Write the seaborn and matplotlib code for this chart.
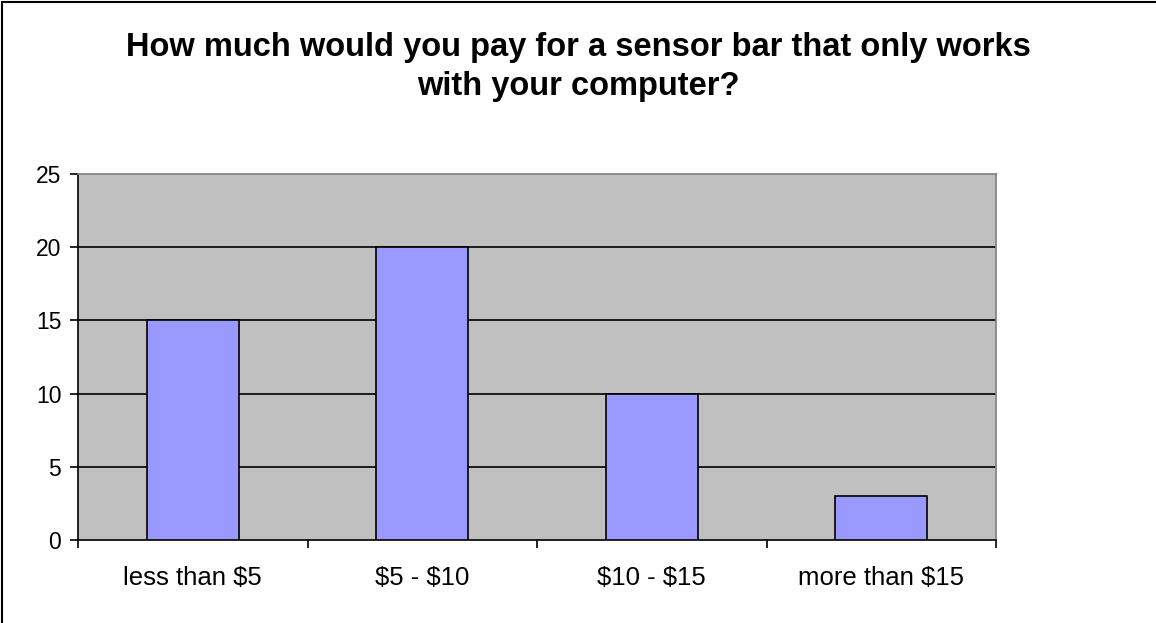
import matplotlib
matplotlib.use("Agg")
import matplotlib.pyplot as plt
import seaborn as sns
import pandas as pd
from matplotlib.lines import Line2D

categories = ["less than $5", "$5 - $10", "$10 - $15", "more than $15"]
values = [15, 20, 10, 3]
yticks = [0, 5, 10, 15, 20, 25]
title = "How much would you pay for a sensor bar that only works\nwith your computer?"

sns.set_theme(style="white")
plt.rcParams['font.family'] = ['Liberation Sans', 'DejaVu Sans']
plt.rcParams['text.parse_math'] = False
plt.rcParams['text.color'] = 'black'
plt.rcParams['xtick.color'] = 'black'
plt.rcParams['ytick.color'] = 'black'

df = pd.DataFrame({"cat": categories, "val": values})

fig = plt.figure(figsize=(11.56, 6.23), dpi=100)
ax = fig.add_axes([78/1156, 1-540/623, (996-78)/1156, (540-174)/623])
ax.set_facecolor("#C0C0C0")

sns.barplot(data=df, x="cat", y="val", ax=ax, color="#9999FF", saturation=1,
            width=0.40, edgecolor="black", linewidth=1.2, zorder=3)

ax.set_ylim(0, 25)
ax.set_xlim(-0.5, len(categories) - 0.5)
ax.set_yticks(yticks)
ax.set_yticklabels([str(t) for t in yticks], fontsize=16.5)
for y in yticks[1:-1]:
    ax.axhline(y, color="black", linewidth=1.2, zorder=1)

ax.set_xticks([i for i in range(len(categories))])
ax.set_xticklabels(categories, fontsize=18.5)
ax.tick_params(axis='x', length=0, pad=19)
ax.set_xticks([i - 0.5 for i in range(len(categories) + 1)], minor=True)
ax.tick_params(axis='x', which='minor', length=6, width=1.2, color='black', direction='out', bottom=True)
ax.tick_params(axis='y', length=6, width=1.2, color='black', direction='out', left=True, pad=6)
ax.set_xlabel("")
ax.set_ylabel("")

for s in ["left", "bottom"]:
    ax.spines[s].set_color("black")
    ax.spines[s].set_linewidth(1.2)
for s in ["top", "right"]:
    ax.spines[s].set_visible(True)
    ax.spines[s].set_color("#808080")
    ax.spines[s].set_linewidth(1.2)

fig.text(0.5, 1-67/623, title, ha="center", va="center", fontsize=23.5,
         fontweight="bold", linespacing=1.35, color="black")

fig.add_artist(Line2D([2/1156, 1], [1-2/623, 1-2/623], color="black", linewidth=1.5, transform=fig.transFigure))
fig.add_artist(Line2D([2/1156, 2/1156], [0, 1-2/623], color="black", linewidth=1.5, transform=fig.transFigure))

fig.savefig("out.png", dpi=100)
